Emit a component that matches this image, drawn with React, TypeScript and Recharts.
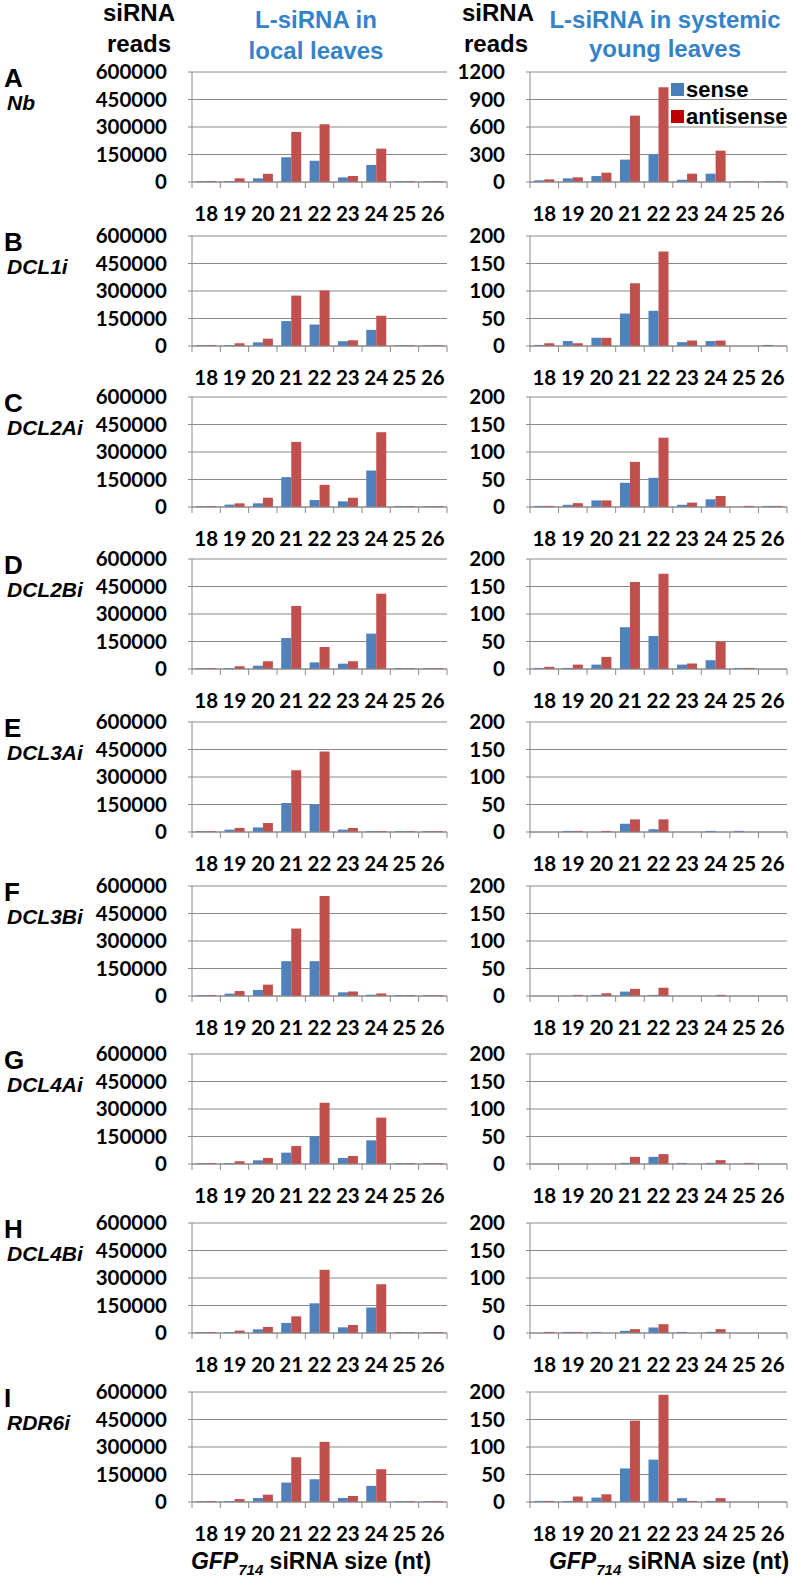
import { BarChart, Bar, XAxis, YAxis, CartesianGrid, Legend } from "recharts"

// siRNA sizes (nt) on the x axis
const sizes = ["18", "19", "20", "21", "22", "23", "24", "25", "26"]

const panelLetters = ["A", "B", "C", "D", "E", "F", "G", "H", "I"]
const plantLines = ["Nb", "DCL1i", "DCL2Ai", "DCL2Bi", "DCL3Ai", "DCL3Bi", "DCL4Ai", "DCL4Bi", "RDR6i"]

const localTicks = [0, 150000, 300000, 450000, 600000]
const nbSystemicTicks = [0, 300, 600, 900, 1200]
const systemicTicks = [0, 50, 100, 150, 200]

// local leaves, one row per plant line (A..I)
const localSense = [
  [5000, 5000, 20000, 135000, 116000, 25000, 93000, 5000, 4000],
  [5000, 5000, 20000, 136000, 117000, 26000, 88000, 4000, 4000],
  [5000, 13000, 20000, 163000, 38000, 31000, 199000, 5000, 5000],
  [5000, 5000, 18000, 169000, 36000, 29000, 193000, 5000, 5000],
  [5000, 13000, 25000, 158000, 150000, 13000, 5000, 5000, 5000],
  [5000, 13000, 33000, 190000, 190000, 20000, 7000, 5000, 5000],
  [5000, 5000, 20000, 62000, 150000, 33000, 129000, 5000, 5000],
  [5000, 5000, 20000, 55000, 162000, 31000, 139000, 5000, 5000],
  [5000, 5000, 22000, 106000, 124000, 22000, 88000, 5000, 5000],
]
const localAntisense = [
  [5000, 20000, 45000, 273000, 315000, 33000, 182000, 5000, 4000],
  [5000, 15000, 40000, 275000, 303000, 31000, 165000, 4000, 4000],
  [5000, 20000, 51000, 355000, 121000, 51000, 408000, 5000, 5000],
  [5000, 15000, 42000, 344000, 120000, 42000, 411000, 5000, 5000],
  [5000, 22000, 49000, 337000, 439000, 22000, 5000, 5000, 5000],
  [5000, 27000, 62000, 368000, 545000, 25000, 14000, 5000, 5000],
  [5000, 15000, 33000, 98000, 334000, 44000, 253000, 5000, 5000],
  [5000, 13000, 33000, 91000, 345000, 44000, 266000, 5000, 5000],
  [5000, 16000, 40000, 244000, 328000, 33000, 179000, 5000, 5000],
]

// systemic young leaves
const systemicSense = [
  [18, 40, 65, 244, 302, 25, 91, 8, 8],
  [2, 9, 15, 59, 64, 7, 9, 0, 2],
  [2, 4, 12, 44, 53, 4, 14, 0, 2],
  [2, 2, 8, 76, 60, 8, 16, 2, 0],
  [0, 2, 0, 15, 5, 0, 2, 2, 0],
  [0, 0, 2, 8, 2, 0, 0, 0, 0],
  [0, 0, 0, 2, 13, 2, 2, 0, 0],
  [0, 2, 2, 4, 10, 2, 2, 0, 0],
  [2, 2, 8, 61, 77, 7, 2, 0, 0],
]
const systemicAntisense = [
  [29, 51, 102, 724, 1033, 91, 342, 8, 8],
  [5, 5, 15, 114, 172, 10, 10, 0, 0],
  [2, 7, 12, 82, 126, 8, 20, 2, 2],
  [4, 8, 22, 158, 173, 10, 50, 2, 0],
  [0, 2, 2, 23, 23, 0, 0, 0, 0],
  [0, 2, 5, 13, 15, 0, 2, 0, 0],
  [0, 0, 0, 13, 18, 0, 7, 2, 0],
  [2, 2, 0, 7, 16, 0, 7, 0, 0],
  [2, 10, 14, 148, 195, 2, 7, 0, 0],
]

const SENSE = "#4F81BD"
const ANTI = "#C0504D"
const GRID = "#8A8A8A"
const BLUE_TEXT = "#3483C8"
const TICK_FONT = "Lato, 'Open Sans', sans-serif"
const HEAD_FONT = "'Liberation Sans', Arial, sans-serif"

// layout
const rowTops = [72, 236, 397, 559, 722, 886, 1054, 1223, 1392]
const PLOT_H = 110
const LOCAL_X = 192
const LOCAL_W = 255
const SYS_X = 530
const SYS_W = 257
const Y_W = 100
const M_TOP = 12
const M_RIGHT = 4
const X_H = 45

function SizeTick(props: any) {
  const { x, y, payload, index, half } = props
  const last = index === sizes.length - 1
  return (
    <g>
      <line x1={x - half} x2={x - half} y1={y} y2={y + 6} stroke={GRID} />
      {last && <line x1={x + half} x2={x + half} y1={y} y2={y + 6} stroke={GRID} />}
      <text x={x} y={y + 39} textAnchor="middle" fontFamily={TICK_FONT} fontWeight={700} fontSize={20.5} fill="#000">
        {payload.value}
      </text>
    </g>
  )
}

function LegendBox() {
  const items = [
    { label: "sense", color: "#4A7EBB" },
    { label: "antisense", color: "#C00000" },
  ]
  return (
    <div style={{ fontFamily: HEAD_FONT, fontWeight: 700, fontSize: 22, lineHeight: "27px", color: "#000" }}>
      {items.map((it) => (
        <div key={it.label} style={{ display: "flex", alignItems: "center", whiteSpace: "nowrap" }}>
          <span style={{ display: "inline-block", width: 13, height: 13, background: it.color, marginRight: 2 }} />
          {it.label}
        </div>
      ))}
    </div>
  )
}

interface PanelProps {
  sense: number[]
  antisense: number[]
  ticks: number[]
  plotX: number
  plotW: number
  top: number
  legend?: boolean
}

function Panel({ sense, antisense, ticks, plotX, plotW, top, legend }: PanelProps) {
  const data = sizes.map((s, i) => ({ size: s, sense: sense[i], antisense: antisense[i] }))
  const width = Y_W + plotW + M_RIGHT
  return (
    <div style={{ position: "absolute", left: plotX - Y_W, top: top - M_TOP }}>
      <BarChart
        width={width}
        height={M_TOP + PLOT_H + X_H}
        data={data}
        margin={{ top: M_TOP, right: M_RIGHT, left: 0, bottom: 0 }}
        barGap={0}
        barCategoryGap="15%"
      >
        <CartesianGrid vertical={false} stroke={GRID} />
        <XAxis
          dataKey="size"
          height={X_H}
          interval={0}
          tickSize={0}
          tickMargin={0}
          axisLine={{ stroke: GRID }}
          tickLine={false}
          tick={<SizeTick half={plotW / sizes.length / 2} />}
        />
        <YAxis
          width={Y_W}
          domain={[0, ticks[ticks.length - 1]]}
          ticks={ticks}
          interval={0}
          axisLine={{ stroke: GRID }}
          tickLine={{ stroke: GRID }}
          tickSize={4}
          tickMargin={21}
          tick={{ fontFamily: TICK_FONT, fontWeight: 700, fontSize: 20.5, fill: "#000" }}
        />
        {legend && (
          <Legend
            layout="horizontal"
            verticalAlign="middle"
            align="center"
            content={() => <LegendBox />}
            wrapperStyle={{ top: 16, left: 241, width: "auto", height: "auto" }}
          />
        )}
        <Bar dataKey="sense" name="sense" fill={SENSE} isAnimationActive={false} />
        <Bar dataKey="antisense" name="antisense" fill={ANTI} isAnimationActive={false} />
      </BarChart>
    </div>
  )
}

function XTitle({ cx }: { cx: number }) {
  return (
    <text x={cx} y={1569} textAnchor="middle" fontFamily={HEAD_FONT} fontWeight={700} fontSize={23} fill="#000">
      <tspan fontStyle="italic">GFP</tspan>
      <tspan fontStyle="italic" fontSize={15} dy={6}>714</tspan>
      <tspan dy={-6}> siRNA size (nt)</tspan>
    </text>
  )
}

export default function App() {
  return (
    <div style={{ position: "absolute", left: 0, top: 0, width: 793, height: 1582, background: "#fff" }}>
      {rowTops.map((top, r) => (
        <div key={r}>
          <Panel
            sense={localSense[r]}
            antisense={localAntisense[r]}
            ticks={localTicks}
            plotX={LOCAL_X}
            plotW={LOCAL_W}
            top={top}
          />
          <Panel
            sense={systemicSense[r]}
            antisense={systemicAntisense[r]}
            ticks={r === 0 ? nbSystemicTicks : systemicTicks}
            plotX={SYS_X}
            plotW={SYS_W}
            top={top}
            legend={r === 0}
          />
        </div>
      ))}
      <svg
        width={793}
        height={1582}
        style={{ position: "absolute", left: 0, top: 0, pointerEvents: "none" }}
      >
        <g fontFamily={HEAD_FONT} fontWeight={700} fontSize={24} textAnchor="middle">
          <text x={139} y={21} fill="#000">siRNA</text>
          <text x={139} y={52} fill="#000">reads</text>
          <text x={498} y={21} fill="#000">siRNA</text>
          <text x={496} y={52} fill="#000">reads</text>
          <text x={316} y={28} fill={BLUE_TEXT}>L-siRNA in</text>
          <text x={316} y={59} fill={BLUE_TEXT}>local leaves</text>
          <text x={665} y={28} fill={BLUE_TEXT}>L-siRNA in systemic</text>
          <text x={665} y={57} fill={BLUE_TEXT}>young leaves</text>
        </g>
        {rowTops.map((top, r) => (
          <g key={r} fontFamily={HEAD_FONT} fontWeight={700} fill="#000">
            <text x={4} y={top + 15} fontSize={26}>{panelLetters[r]}</text>
            <text x={7} y={top + 38} fontSize={21} fontStyle="italic">{plantLines[r]}</text>
          </g>
        ))}
        <XTitle cx={311} />
        <XTitle cx={669} />
      </svg>
    </div>
  )
}
